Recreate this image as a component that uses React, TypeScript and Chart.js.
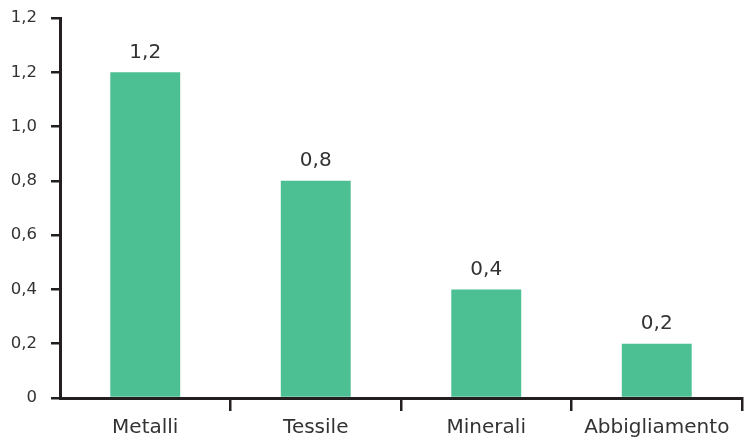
import React, { useEffect, useRef } from "react";
import { Chart, registerables } from "chart.js";

Chart.register(...registerables);

// Categories and values (Italian number format for labels)
const categories: string[] = ["Metalli", "Tessile", "Minerali", "Abbigliamento"];
const values: number[] = [1.2, 0.8, 0.4, 0.2];
const valueLabels: string[] = ["1,2", "0,8", "0,4", "0,2"];
const yTickValues: number[] = [0, 0.2, 0.4, 0.6, 0.8, 1.0, 1.2, 1.4];
const yTickLabels: string[] = ["0", "0,2", "0,4", "0,6", "0,8", "1,0", "1,2", "1,2"];

const BAR_COLOR = "#4cbf93";
const TEXT_COLOR = "#333333";
const AXIS_COLOR = "#231f20";
const FONT = "'DejaVu Sans', sans-serif";

// Writes each bar's value above it
const valueLabelPlugin = {
  id: "valueLabels",
  afterDatasetsDraw(chart: any) {
    const ctx = chart.ctx;
    const meta = chart.getDatasetMeta(0);
    ctx.save();
    ctx.fillStyle = TEXT_COLOR;
    ctx.font = `20px ${FONT}`;
    ctx.textAlign = "center";
    ctx.textBaseline = "alphabetic";
    meta.data.forEach((bar: any, i: number) => {
      ctx.fillText(valueLabels[i], bar.x, bar.y - 14.5);
    });
    ctx.restore();
  },
};

export default function App() {
  const canvasRef = useRef<HTMLCanvasElement | null>(null);

  useEffect(() => {
    if (!canvasRef.current) return;
    const chart = new Chart(canvasRef.current, {
      type: "bar",
      data: {
        labels: categories,
        datasets: [
          {
            data: values,
            backgroundColor: BAR_COLOR,
            borderWidth: 0,
            categoryPercentage: 1,
            barPercentage: 0.41,
          },
        ],
      },
      plugins: [valueLabelPlugin],
      options: {
        animation: false,
        responsive: false,
        devicePixelRatio: 1,
        layout: { padding: { top: 18, right: 2, left: 0, bottom: 0 } },
        plugins: {
          legend: { display: false },
          tooltip: { enabled: false },
        },
        scales: {
          x: {
            offset: true,
            afterFit: (scale: any) => {
              scale.height = 43;
            },
            grid: {
              display: true,
              offset: true,
              drawOnChartArea: false,
              drawTicks: true,
              tickLength: 13,
              lineWidth: 2.5,
              // no separator mark under the vertical axis
              color: (c: any) => (c.index === 0 ? "rgba(0,0,0,0)" : AXIS_COLOR),
            },
            border: { display: true, color: AXIS_COLOR, width: 3 },
            ticks: {
              color: TEXT_COLOR,
              font: { family: FONT, size: 20 },
              padding: 5,
              maxRotation: 0,
              autoSkip: false,
            },
          },
          y: {
            min: 0,
            max: 1.4,
            afterFit: (scale: any) => {
              scale.width = 60;
              scale.paddingTop = 0;
              scale.paddingBottom = 0;
            },
            afterBuildTicks: (scale: any) => {
              scale.ticks = yTickValues.map((v) => ({ value: v }));
            },
            grid: {
              display: true,
              drawOnChartArea: false,
              drawTicks: true,
              tickLength: 9,
              lineWidth: 2.5,
              color: AXIS_COLOR,
            },
            border: { display: true, color: AXIS_COLOR, width: 3 },
            ticks: {
              color: TEXT_COLOR,
              font: { family: FONT, size: 16.5 },
              padding: 14,
              callback: (_value: any, index: number) => yTickLabels[index],
            },
          },
        },
      },
    });
    return () => chart.destroy();
  }, []);

  return (
    <div
      style={{
        position: "fixed",
        left: 0,
        top: 0,
        width: 744,
        height: 441,
        background: "#ffffff",
      }}
    >
      <canvas ref={canvasRef} width={744} height={441} />
    </div>
  );
}
